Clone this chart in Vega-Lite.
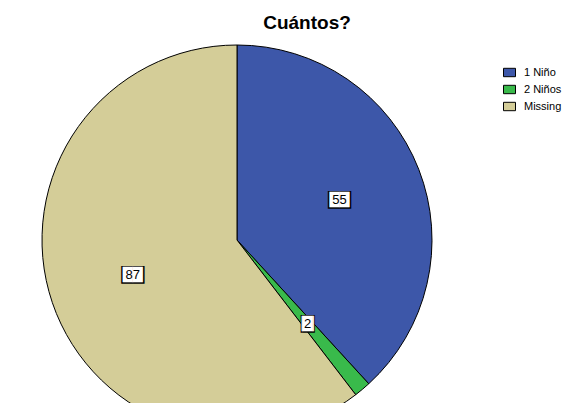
{
  "$schema": "https://vega.github.io/schema/vega-lite/v6.json",
  "width": 474,
  "height": 480,
  "autosize": "none",
  "padding": {"left": 0, "top": 0, "right": 97, "bottom": 0},
  "background": "white",
  "title": {
    "text": "Cuántos?",
    "font": "Liberation Sans",
    "fontSize": 19,
    "fontWeight": "bold",
    "color": "black",
    "anchor": "middle",
    "offset": -33,
    "dx": 70
  },
  "data": {
    "values": [
      {"category": "1 Niño", "count": 55},
      {"category": "2 Niños", "count": 2},
      {"category": "Missing", "count": 87}
    ]
  },
  "encoding": {
    "theta": {"field": "count", "type": "quantitative", "stack": true},
    "order": {"field": "category", "type": "nominal", "sort": "ascending"}
  },
  "layer": [
    {
      "mark": {"type": "arc", "outerRadius": 195, "stroke": "black", "strokeWidth": 1},
      "encoding": {
        "color": {
          "field": "category",
          "type": "nominal",
          "scale": {
            "domain": ["1 Niño", "2 Niños", "Missing"],
            "range": ["#3d57a9", "#39ba4b", "#d4cd98"]
          },
          "legend": {
            "title": null,
            "orient": "none",
            "legendX": 503,
            "legendY": 66,
            "symbolType": "M-1,-0.7H1V0.7H-1Z",
            "symbolSize": 144,
            "symbolStrokeColor": "black",
            "symbolStrokeWidth": 1,
            "symbolOpacity": 1,
            "labelFont": "Liberation Sans",
            "labelFontSize": 11,
            "labelColor": "black",
            "labelOffset": 8,
            "rowPadding": 4
          }
        }
      }
    },
    {
      "mark": {"type": "text", "font": "DejaVu Sans", "fontSize": 15, "color": "black", "baseline": "middle", "align": "center"},
      "encoding": {
        "detail": {"field": "category", "type": "nominal"},
        "radius": {"value": 110},
        "text": {"condition": {"test": "datum.category === '2 Niños'", "value": "▕█▏"}, "value": "██"}
      }
    },
    {
      "mark": {"type": "text", "font": "DejaVu Sans", "fontSize": 13, "color": "white", "baseline": "middle", "align": "center"},
      "encoding": {
        "detail": {"field": "category", "type": "nominal"},
        "radius": {"value": 110},
        "text": {"condition": {"test": "datum.category === '2 Niños'", "value": "▕█▏"}, "value": "██"}
      }
    },
    {
      "mark": {"type": "text", "font": "Liberation Sans", "fontSize": 13, "color": "black", "baseline": "middle", "align": "center"},
      "encoding": {
        "detail": {"field": "category", "type": "nominal"},
        "radius": {"value": 110},
        "text": {"field": "count", "type": "quantitative"}
      }
    }
  ]
}
